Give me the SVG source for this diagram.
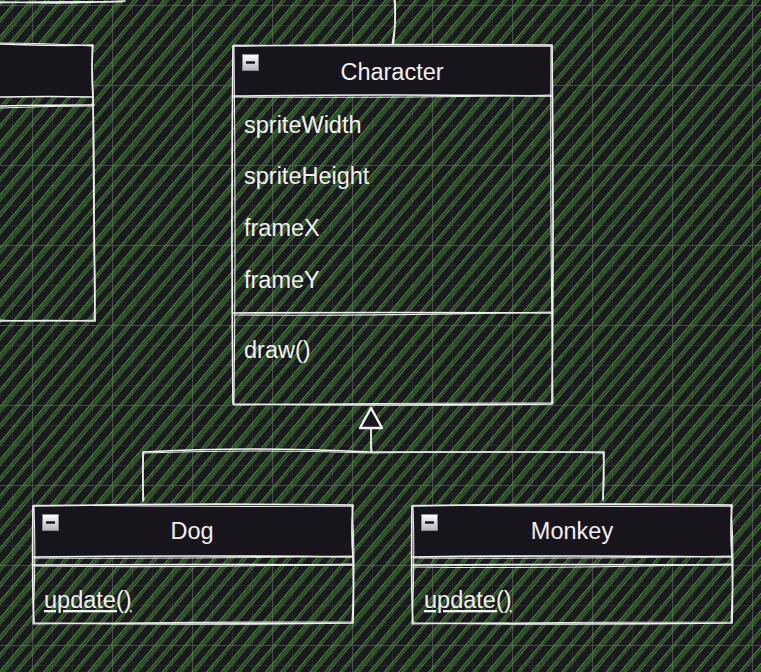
<svg xmlns="http://www.w3.org/2000/svg" width="761" height="672" viewBox="0 0 761 672">
<defs>
<pattern id="minor" patternUnits="userSpaceOnUse" x="12" y="5" width="20" height="20">
<path d="M0,0.5 H20 M0.5,0 V20" stroke="#29262d" stroke-width="1" fill="none"/>
</pattern>
<pattern id="major" patternUnits="userSpaceOnUse" x="32" y="5" width="80" height="80">
<path d="M0,0.5 H80 M0.5,0 V80" stroke="#4a484e" stroke-width="1.2" fill="none"/>
</pattern>
<pattern id="hatch" patternUnits="userSpaceOnUse" width="34" height="40" patternTransform="rotate(40)">
<g stroke="#46a030" stroke-width="1.1" fill="none">
<path d="M1,0 V40"/><path d="M3.4,0 V40" opacity="0.85"/>
<path d="M12.5,0 V40"/><path d="M14.6,0 V40" opacity="0.7"/>
<path d="M23.5,0 V40"/><path d="M25.8,0 V40" opacity="0.85"/><path d="M27.6,0 V40" opacity="0.5"/>
</g>
</pattern>
<linearGradient id="ig" x1="0" y1="0" x2="0" y2="1">
<stop offset="0" stop-color="#ffffff"/><stop offset="1" stop-color="#b4b4bc"/>
</linearGradient>
</defs>
<style>
.sk{fill:none;stroke:#f2f2f2;stroke-width:1.7;stroke-linecap:round;stroke-linejoin:round}
.sk2{fill:none;stroke:#e8e8e8;stroke-width:1.1;stroke-linecap:round;stroke-linejoin:round}
.hdr{fill:#17141b}
.t{font-family:"Liberation Sans",Arial,Helvetica,sans-serif;font-size:23.5px;fill:#f0f0f0}
.ttl{text-anchor:middle}
.u{text-decoration:underline}
.ibox{fill:url(#ig);stroke:#8a8a92;stroke-width:1}
.ibar{stroke:#111;stroke-width:2.4}
</style>

<rect width="761" height="672" fill="#1b1820"/>
<rect width="761" height="672" fill="url(#minor)"/>
<rect width="761" height="672" fill="url(#major)"/>
<rect width="761" height="672" fill="url(#hatch)"/>

<g id="connectors">
<path class="sk" d="M0,2 Q70,4 125,1"/>
<path class="sk2" d="M0,3 Q60,1 122,2"/>
<path class="sk" d="M395,0 Q396,25 393,45"/>
<path class="sk2" d="M394,0 Q397,22 392,44"/>
<path class="sk" d="M143,501 L143,452 Q250,446 371,452 L604,452 L603,500"/>
<path class="sk2" d="M144,500 Q141,470 144,453 Q260,449 372,453 Q500,451 603,453 Q605,480 603,499"/>
<path class="sk" d="M371,452 L371,428"/>
<path class="sk2" d="M372,451 Q370,440 371,429"/>
<path d="M371,408 L382,428 L360,428 Z" fill="#1b1820" stroke="#f2f2f2" stroke-width="2.4" stroke-linejoin="round"/>
</g>

<g id="class-left">
<rect class="hdr" x="0" y="44" width="94" height="53"/>
<path class="sk" d="M0,44 Q50,46 93,45 Q91,70 93,97 Q94,200 95,321 Q50,320 0,321"/>
<path class="sk2" d="M0,43 Q45,43 92,46 Q95,150 94,250 Q96,290 94,320 Q40,322 0,320"/>
<path class="sk" d="M0,97 Q50,96 93,97"/>
<path class="sk" d="M0,106 Q45,105 94,105"/>
<path class="sk2" d="M0,108 Q50,106 93,106"/>
</g>

<g id="class-character">
<rect class="hdr" x="233" y="45" width="319" height="51"/>
<path class="sk" d="M233,46 Q390,44 552,45 Q554,220 552,404 Q390,406 233,404 Q231,220 233,46 Z"/>
<path class="sk2" d="M234,45 Q400,47 551,46 Q550,230 553,403 Q380,403 234,405 Q236,230 234,45"/>
<path class="sk" d="M233,96 Q390,94 552,96"/>
<path class="sk2" d="M234,97 Q400,98 551,95"/>
<path class="sk" d="M233,313 Q390,312 552,313"/>
<path class="sk2" d="M234,315 Q380,316 551,312"/>
<rect class="ibox" x="242.5" y="54.5" width="16" height="16"/>
<line class="ibar" x1="246" y1="62.5" x2="255" y2="62.5"/>
<text class="t ttl" x="392" y="80">Character</text>
<text class="t" x="244" y="133">spriteWidth</text>
<text class="t" x="244" y="184">spriteHeight</text>
<text class="t" x="244" y="236">frameX</text>
<text class="t" x="244" y="288">frameY</text>
<text class="t" x="244" y="358">draw()</text>
</g>

<g id="class-dog">
<rect class="hdr" x="33" y="505" width="320" height="52"/>
<path class="sk" d="M33,506 Q190,503 353,505 Q351,530 353,557 Q354,590 353,623 Q190,625 34,623 Q32,590 33,506 Z"/>
<path class="sk2" d="M34,505 Q200,507 352,506 Q356,560 352,622 Q180,622 33,624 Q36,560 34,505"/>
<path class="sk" d="M33,557 Q190,555 353,557"/>
<path class="sk2" d="M34,558 Q200,559 352,556"/>
<path class="sk" d="M33,565 Q190,564 353,565"/>
<path class="sk2" d="M34,566 Q180,568 352,564"/>
<rect class="ibox" x="42.5" y="514.5" width="16" height="16"/>
<line class="ibar" x1="46" y1="522.5" x2="55" y2="522.5"/>
<text class="t ttl" x="192" y="539">Dog</text>
<text class="t u" x="44" y="608">update()</text>
</g>

<g id="class-monkey">
<rect class="hdr" x="412" y="505" width="320" height="52"/>
<path class="sk" d="M412,506 Q570,503 732,505 Q730,530 732,557 Q733,590 732,623 Q570,625 413,623 Q411,590 412,506 Z"/>
<path class="sk2" d="M413,505 Q580,507 731,506 Q735,560 731,622 Q560,622 412,624 Q415,560 413,505"/>
<path class="sk" d="M412,557 Q570,555 732,557"/>
<path class="sk2" d="M413,558 Q580,559 731,556"/>
<path class="sk" d="M412,565 Q570,564 732,565"/>
<path class="sk2" d="M413,567 Q560,569 731,564"/>
<rect class="ibox" x="421.5" y="514.5" width="16" height="16"/>
<line class="ibar" x1="425" y1="522.5" x2="434" y2="522.5"/>
<text class="t ttl" x="572" y="539">Monkey</text>
<text class="t u" x="424" y="608">update()</text>
</g>
</svg>
